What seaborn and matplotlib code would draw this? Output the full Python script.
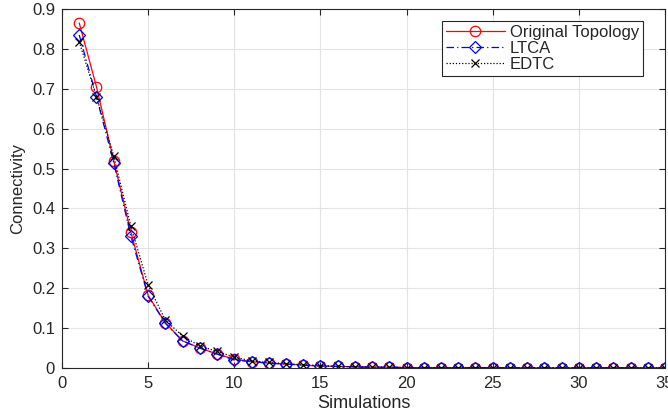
import numpy as np
import pandas as pd
import matplotlib
matplotlib.use("Agg")
import matplotlib.pyplot as plt
import seaborn as sns

simulations = list(range(1, 36))
original = [0.865, 0.705, 0.52, 0.34, 0.182, 0.113, 0.068, 0.05, 0.035, 0.022,
            0.016, 0.012, 0.010, 0.007, 0.005, 0.004, 0.003, 0.002, 0.002, 0.001,
            0.001, 0.001, 0.001, 0.001, 0.0005, 0.0005, 0.0005, 0.0005, 0.0005, 0.0005,
            0.0005, 0.0005, 0.0005, 0.0005, 0.0005]
ltca = [0.835, 0.68, 0.515, 0.33, 0.18, 0.112, 0.068, 0.05, 0.035, 0.020,
        0.016, 0.012, 0.010, 0.007, 0.005, 0.004, 0.003, 0.002, 0.002, 0.001,
        0.001, 0.001, 0.001, 0.001, 0.0005, 0.0005, 0.0005, 0.0005, 0.0005, 0.0005,
        0.0005, 0.0005, 0.0005, 0.0005, 0.0005]
edtc = [0.818, 0.68, 0.532, 0.355, 0.208, 0.12, 0.08, 0.055, 0.042, 0.027,
        0.018, 0.014, 0.011, 0.008, 0.006, 0.004, 0.003, 0.002, 0.002, 0.001,
        0.001, 0.001, 0.001, 0.001, 0.0005, 0.0005, 0.0005, 0.0005, 0.0005, 0.0005,
        0.0005, 0.0005, 0.0005, 0.0005, 0.0005]
series_names = ["Original Topology", "LTCA", "EDTC"]

df = pd.DataFrame({
    "Simulations": simulations * 3,
    "Connectivity": original + ltca + edtc,
    "Method": [series_names[0]] * 35 + [series_names[1]] * 35 + [series_names[2]] * 35,
})

sns.set_theme(style="whitegrid")
plt.rcParams["font.family"] = ["Liberation Sans", "DejaVu Sans"]

fig = plt.figure(figsize=(6.68, 4.12), dpi=100)
ax = fig.add_axes([62 / 668, 44 / 412, 603 / 668, 359 / 412])

styles = {
    "Original Topology": dict(color="red", marker="o", linestyle="-", markersize=7.5,
                              markerfacecolor="none"),
    "LTCA": dict(color="blue", marker="D", linestyle=(0, (6, 2.5, 1, 2.5)), markersize=6.5,
                 markerfacecolor="none"),
    "EDTC": dict(color="black", marker="x", linestyle=(0, (1, 1.5)), markersize=6,
                 markerfacecolor="black"),
}
for name in series_names:
    sub = df[df["Method"] == name]
    st = styles[name]
    sns.lineplot(data=sub, x="Simulations", y="Connectivity", ax=ax, label=name,
                 color=st["color"], linewidth=0.9, linestyle=st["linestyle"],
                 marker=st["marker"], markersize=st["markersize"],
                 markerfacecolor=st["markerfacecolor"],
                 markeredgecolor=st["color"], markeredgewidth=0.9)

ax.set_xlim(0, 35)
ax.set_ylim(0, 0.9)
ax.set_xticks(range(0, 36, 5))
ax.set_yticks(np.arange(0, 0.91, 0.1))
ax.set_yticklabels(["0", "0.1", "0.2", "0.3", "0.4", "0.5", "0.6", "0.7", "0.8", "0.9"])
ax.grid(True, color="#e3e3e3", linewidth=0.8)
for s in ax.spines.values():
    s.set_visible(True)
    s.set_color("#262626")
    s.set_linewidth(0.8)
ax.tick_params(axis="both", which="both", direction="in", length=4, width=0.8,
               colors="#262626", labelsize=12, top=True, right=True, bottom=True, left=True,
               labelcolor="#262626")
ax.tick_params(axis="x", pad=6)
ax.tick_params(axis="y", pad=5)
ax.set_xlabel("Simulations", fontsize=13, color="#262626", labelpad=2.5)
ax.set_ylabel("Connectivity", fontsize=12, color="#262626", labelpad=5)

leg = ax.legend(loc="upper right", bbox_to_anchor=(0.9635, 0.967), fontsize=12,
                frameon=True, fancybox=False, edgecolor="#262626", framealpha=1,
                handlelength=3.5, handletextpad=0.3, borderpad=0.25, labelspacing=0.05,
                borderaxespad=0.0)
leg.get_frame().set_linewidth(0.8)

fig.savefig("out.png", dpi=100)
